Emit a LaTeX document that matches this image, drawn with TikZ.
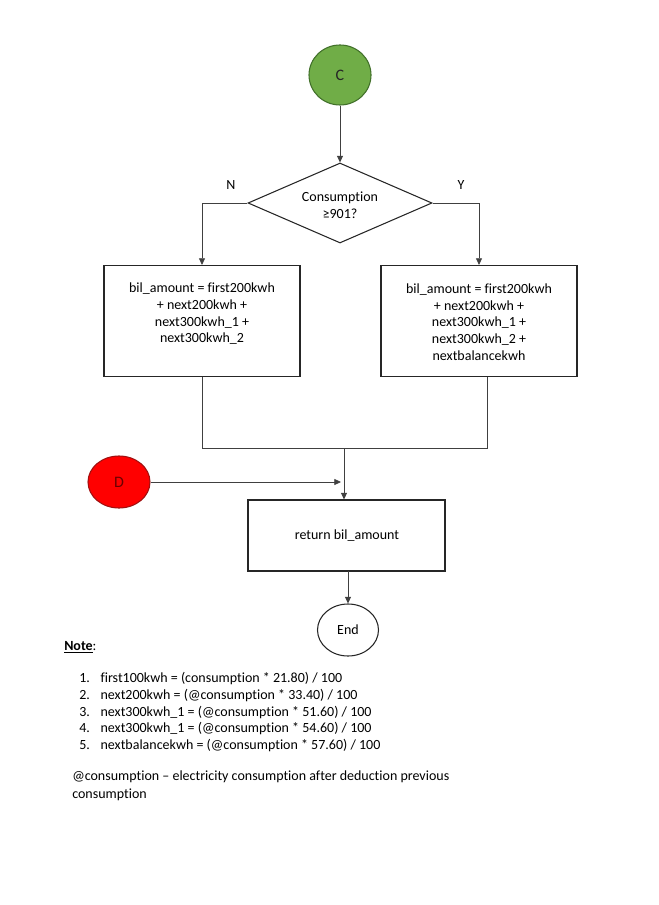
\documentclass[tikz,border=0pt]{standalone}
\usepackage{fontspec}
\setmainfont{Carlito}[Ligatures={NoCommon,NoRequired,NoContextual}]
\usetikzlibrary{shapes.geometric,arrows.meta}
\definecolor{cgreen}{HTML}{70AD47}
\definecolor{cgreenb}{HTML}{41702A}
\definecolor{cred}{HTML}{FF0000}
\definecolor{credb}{HTML}{A01010}
\definecolor{dtext}{HTML}{6A0000}
\tikzset{
  px/.style={x=0.75pt,y=-0.75pt},
  ln/.style={draw=black!75,line width=0.6pt},
  arr/.style={ln,-{Triangle[length=5pt,width=4.5pt]}},
  procbox/.style={draw=black!85,line width=0.8pt,rectangle,inner sep=0pt},
  txt/.style={align=center,font=\fontsize{10.5}{12.5}\selectfont,inner sep=0pt},
}
\begin{document}
\begin{tikzpicture}[px]
\useasboundingbox (0,0) rectangle (658,905);
\node[ellipse,draw=cgreenb,fill=cgreen,line width=0.8pt,minimum width=62*0.75pt,minimum height=60*0.75pt,inner sep=0pt,font=\fontsize{12}{14}\selectfont,text=black!85] (C) at (340,75) {C};
\node[diamond,draw=black!85,line width=0.8pt,minimum width=184*0.75pt,minimum height=80*0.75pt,inner sep=0pt] (dia) at (340,203) {};
\node[txt] (diatext) at (340,205) {Consumption\\≥901?};
\node[txt] (N) at (231,185) {N};
\node[txt] (Y) at (461,185) {Y};
\node[procbox,minimum width=196*0.75pt,minimum height=111*0.75pt] (L) at (202,321) {};
\node[txt] (Ltext) at (202,314) {bil\_amount = first200kwh\\+ next200kwh +\\next300kwh\_1 +\\next300kwh\_2};
\node[procbox,minimum width=196*0.75pt,minimum height=111*0.75pt] (R) at (479,321) {};
\node[txt] (Rtext) at (479,322) {bil\_amount = first200kwh\\+ next200kwh +\\next300kwh\_1 +\\next300kwh\_2 +\\nextbalancekwh};
\coordinate (Lb) at (202,377);
\coordinate (Rb) at (487,377);
\coordinate (M) at (344,448);
\coordinate (Mr) at (487,448);
\coordinate (Dj) at (341,482);
\node[ellipse,draw=credb,fill=cred,line width=0.8pt,minimum width=62*0.75pt,minimum height=52*0.75pt,inner sep=0pt,font=\fontsize{12}{14}\selectfont,text=dtext] (D) at (119,482) {D};
\node[procbox,minimum width=197*0.75pt,minimum height=71*0.75pt] (ret) at (346.5,535.5) {};
\node[txt] (rettext) at (347,536) {return bil\_amount};
\node[ellipse,draw=black!85,line width=0.8pt,minimum width=61*0.75pt,minimum height=52*0.75pt,inner sep=0pt,txt] (E) at (348,630) {End};
\draw[arr] (C) -- (dia.north);
\draw[arr] (dia.west) -| (L.north);
\draw[arr] (dia.east) -| (R.north);
\draw[ln] (Lb) |- (Mr) -- (Rb);
\draw[arr] (M) -- (M |- ret.north);
\draw[arr] (D) -- (Dj);
\draw[arr] (348,571) -- (E.north);
\node[anchor=west,txt] (note) at (64,647) {\textbf{\underline{Note}}:};
\node[anchor=north west,txt,align=left,font=\fontsize{10.5}{12.5}\selectfont] (list) at (79,671) {%
\begin{tabular}{@{}r@{\hspace{8pt}}l@{}}
1. & first100kwh = (consumption * 21.80) / 100\\
2. & next200kwh = (@consumption * 33.40) / 100\\
3. & next300kwh\_1 = (@consumption * 51.60) / 100\\
4. & next300kwh\_1 = (@consumption * 54.60) / 100\\
5. & nextbalancekwh = (@consumption * 57.60) / 100
\end{tabular}};
\node[anchor=north west,txt,align=left,font=\fontsize{10.5}{13.5}\selectfont] (para) at (72,771) {@consumption – electricity consumption after deduction previous\\consumption};
\end{tikzpicture}
\end{document}
